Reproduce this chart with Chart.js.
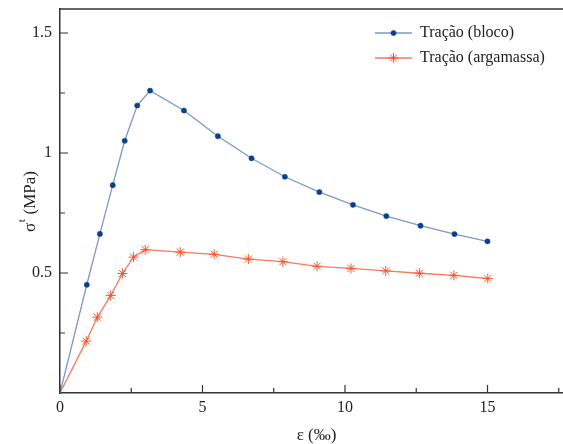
<!DOCTYPE html>
<html>
<head>
<meta charset="utf-8">
<script src="https://cdn.jsdelivr.net/npm/chart.js@4"></script>
<style>
  html, body { margin: 0; padding: 0; background: #fff; overflow: hidden; }
  #wrap { width: 580px; height: 444px; }
</style>
</head>
<body>
<div id="wrap"><canvas id="myChart" width="580" height="444"></canvas></div>
<script>
// strain (‰) and tensile stress (MPa)
const strainBloco = [0, 0.94, 1.40, 1.85, 2.27, 2.71, 3.16, 4.35, 5.54, 6.72, 7.89, 9.10, 10.28, 11.45, 12.65, 13.84, 15.0];
const stressBloco = [0, 0.451, 0.663, 0.866, 1.051, 1.198, 1.26, 1.177, 1.07, 0.978, 0.901, 0.837, 0.784, 0.737, 0.697, 0.662, 0.632];
const strainArg = [0, 0.92, 1.31, 1.78, 2.19, 2.58, 2.99, 4.22, 5.41, 6.61, 7.82, 9.02, 10.21, 11.43, 12.61, 13.82, 15.01];
const stressArg = [0, 0.216, 0.316, 0.406, 0.498, 0.566, 0.597, 0.587, 0.578, 0.558, 0.547, 0.528, 0.519, 0.509, 0.499, 0.490, 0.477];

const seriesNames = ['Tração (bloco)', 'Tração (argamassa)'];
const xTicks = [0, 5, 10, 15];
const xMinor = [2.5, 7.5, 12.5, 17.5];
const yTicks = [0.5, 1, 1.5];
const yMinor = [0.25, 0.75, 1.25];

const serif = "'Liberation Serif', 'Times New Roman', serif";
const axisColor = '#333';

function toPoints(xs, ys) {
  return xs.map((x, i) => ({ x: x, y: ys[i] }));
}

function noPad(s) {
  s.paddingTop = 0; s.paddingBottom = 0; s.paddingLeft = 0; s.paddingRight = 0;
}

// inward tick marks, top frame, legend and axis titles
const decorations = {
  id: 'decorations',
  afterDraw(chart) {
    const ctx = chart.ctx;
    const area = chart.chartArea;
    const xs = chart.scales.x;
    const ys = chart.scales.y;
    ctx.save();
    ctx.strokeStyle = axisColor;
    ctx.lineWidth = 1.5;

    // top frame
    ctx.beginPath();
    ctx.moveTo(area.left, area.top);
    ctx.lineTo(area.right + 2, area.top);
    ctx.stroke();

    ctx.lineWidth = 1.2;
    ctx.beginPath();
    xTicks.forEach(v => {
      const px = xs.getPixelForValue(v);
      ctx.moveTo(px, area.bottom); ctx.lineTo(px, area.bottom - 8);
    });
    xMinor.forEach(v => {
      const px = xs.getPixelForValue(v);
      ctx.moveTo(px, area.bottom); ctx.lineTo(px, area.bottom - 5);
    });
    yTicks.forEach(v => {
      const py = ys.getPixelForValue(v);
      ctx.moveTo(area.left, py); ctx.lineTo(area.left + 8, py);
    });
    yMinor.forEach(v => {
      const py = ys.getPixelForValue(v);
      ctx.moveTo(area.left, py); ctx.lineTo(area.left + 5, py);
    });
    ctx.stroke();

    // legend
    const rows = [33, 58];
    chart.data.datasets.forEach((ds, i) => {
      const y = rows[i];
      ctx.strokeStyle = ds.borderColor;
      ctx.lineWidth = ds.borderWidth;
      ctx.beginPath();
      ctx.moveTo(375, y); ctx.lineTo(412, y);
      ctx.stroke();
      ctx.fillStyle = ds.pointBackgroundColor;
      ctx.strokeStyle = ds.pointBorderColor;
      ctx.lineWidth = ds.pointBorderWidth;
      Chart.helpers.drawPoint(ctx, {
        pointStyle: ds.pointStyle,
        radius: ds.legendRadius,
        borderWidth: ds.pointBorderWidth
      }, 393.5, y);
      ctx.fillStyle = '#222';
      ctx.font = '16px ' + serif;
      ctx.textBaseline = 'middle';
      ctx.textAlign = 'left';
      ctx.fillText(ds.label, 420, y);
    });

    // x title
    ctx.fillStyle = '#222';
    ctx.font = '17px ' + serif;
    ctx.textAlign = 'center';
    ctx.textBaseline = 'middle';
    ctx.fillText('ε (‰)', (area.left + area.right) / 2, 436);

    // y title with small t
    ctx.translate(35, 232);
    ctx.rotate(-Math.PI / 2);
    ctx.textAlign = 'left';
    ctx.textBaseline = 'alphabetic';
    ctx.font = '17px ' + serif;
    ctx.fillText('σ', 0, 0);
    let w = ctx.measureText('σ').width;
    ctx.font = '11px ' + serif;
    ctx.fillText('t', w + 0.5, -10);
    w += ctx.measureText('t').width + 1;
    ctx.font = '17px ' + serif;
    ctx.fillText(' (MPa)', w, 0);
    ctx.restore();
  }
};

const blueLine = '#7d98c8';
const blueDot = '#0d3f8f';
const redLine = '#f57a5e';
const redStar = '#f2552c';

const ctx = document.getElementById('myChart').getContext('2d');
const myChart = new Chart(ctx, {
  type: 'scatter',
  data: {
    datasets: [
      {
        label: seriesNames[0],
        data: toPoints(strainBloco, stressBloco),
        showLine: true,
        borderColor: blueLine,
        borderWidth: 1.3,
        pointStyle: 'circle',
        pointRadius: c => (c.dataIndex === 0 ? 0 : 2.6),
        legendRadius: 2.6,
        pointBackgroundColor: blueDot,
        pointBorderColor: blueDot,
        pointBorderWidth: 0.5
      },
      {
        label: seriesNames[1],
        data: toPoints(strainArg, stressArg),
        showLine: true,
        borderColor: redLine,
        borderWidth: 1.3,
        pointStyle: 'star',
        pointRadius: c => (c.dataIndex === 0 ? 0 : 5),
        legendRadius: 5,
        pointBackgroundColor: redStar,
        pointBorderColor: redStar,
        pointBorderWidth: 1
      }
    ]
  },
  options: {
    responsive: false,
    animation: false,
    layout: { padding: { left: 0, top: 9, right: 7, bottom: 0 } },
    plugins: {
      legend: { display: false },
      tooltip: { enabled: false }
    },
    scales: {
      x: {
        type: 'linear',
        min: 0,
        max: 18,
        afterFit: s => { s.height = 51; noPad(s); },
        afterBuildTicks: s => { s.ticks = xTicks.map(v => ({ value: v })); },
        grid: { display: false, drawTicks: false },
        border: { display: true, color: axisColor, width: 1.5 },
        ticks: { color: '#222', font: { family: serif, size: 16 }, padding: 5, maxRotation: 0, callback: v => String(v) }
      },
      y: {
        type: 'linear',
        min: 0,
        max: 1.6,
        afterFit: s => { s.width = 60; noPad(s); },
        afterBuildTicks: s => { s.ticks = yTicks.map(v => ({ value: v })); },
        grid: { display: false, drawTicks: false },
        border: { display: true, color: axisColor, width: 1.5 },
        ticks: { color: '#222', font: { family: serif, size: 16 }, padding: 8, callback: v => String(v) }
      }
    }
  },
  plugins: [decorations]
});
</script>
</body>
</html>
